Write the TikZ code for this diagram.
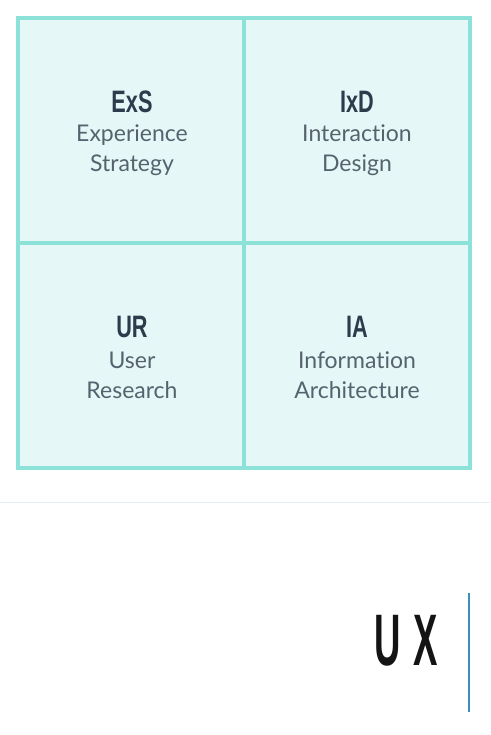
\documentclass[tikz,border=0pt]{standalone}
\usepackage{fontspec}
\setmainfont[Ligatures=NoCommon]{Lato}
\newfontfamily\headfont{Liberation Sans}
\definecolor{gridline}{HTML}{8CE2D8}
\definecolor{cellfill}{HTML}{E6F7F7}
\definecolor{titlecol}{HTML}{2C3C4C}
\definecolor{subcol}{HTML}{56636F}
\definecolor{rulecol}{HTML}{E2F0F4}
\definecolor{barcol}{HTML}{3A90B8}
\tikzset{
  cell/.style={draw=gridline, fill=cellfill, line width=3.5pt, minimum width=226pt, minimum height=225pt, inner sep=0pt},
  abbr/.style={text=titlecol, font=\headfont\bfseries\fontsize{31}{31}\selectfont, xscale=0.7, inner sep=0pt},
  area/.style={text=subcol, font=\fontsize{23}{30}\selectfont, align=center, inner sep=0pt},
}
\begin{document}
\begin{tikzpicture}[x=1pt, y=-1pt]
  \useasboundingbox (0,0) rectangle (490,735);
  \fill[white] (0,0) rectangle (490,735);
  % 2x2 grid of disciplines
  \node[cell] (exs) at (131,130.5) {};
  \node[cell] (ixd) at (357,130.5) {};
  \node[cell] (ur)  at (131,355.5) {};
  \node[cell] (ia)  at (357,355.5) {};
  % cell labels
  \node[abbr] (exsT) at (132,102) {ExS};
  \node[area] (exsL) at (132,150) {Experience\\Strategy};
  \node[abbr] (ixdT) at (357,102) {IxD};
  \node[area] (ixdL) at (357,150) {Interaction\\Design};
  \node[abbr] (urT) at (132,327) {UR};
  \node[area] (urL) at (132,375) {User\\Research};
  \node[abbr] (iaT) at (357,327) {IA};
  \node[area] (iaL) at (357,375) {Information\\Architecture};
  % faint separator
  \coordinate (sepL) at (0,502);
  \coordinate (sepR) at (490,502);
  \draw[rulecol, line width=1pt] (sepL) -- (sepR);
  % UX mark with bar
  \node[text=black!92, font=\headfont\bfseries\fontsize{73}{73}\selectfont, xscale=0.5, inner sep=0pt] (ux) at (406,641) {U\,\,X};
  \coordinate (barT) at (469,593);
  \coordinate (barB) at (469,712);
  \draw[barcol, line width=2.6pt] (barT) -- (barB);
\end{tikzpicture}
\end{document}
